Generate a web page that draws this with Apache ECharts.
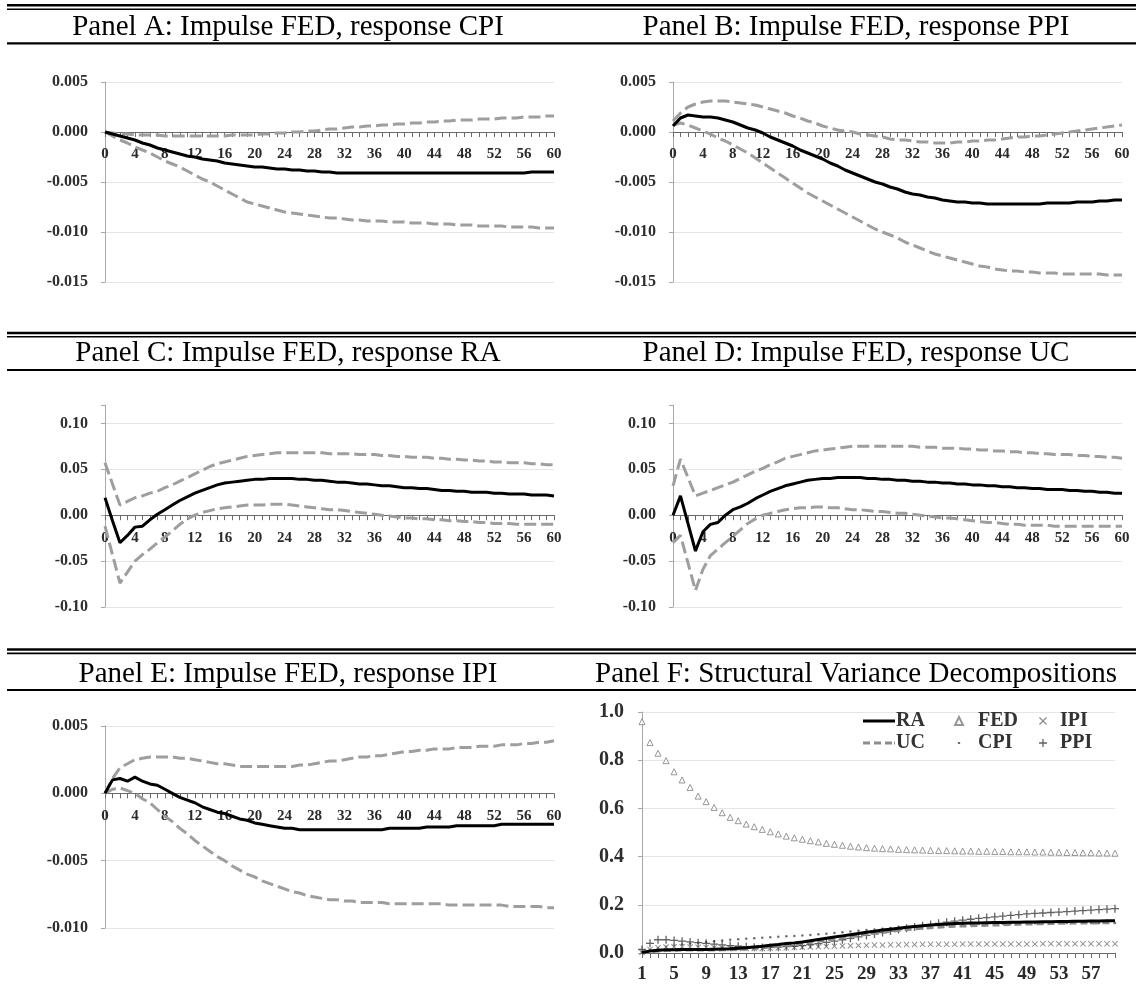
<!DOCTYPE html>
<html><head><meta charset="utf-8">
<script src="https://cdn.jsdelivr.net/npm/echarts@6.0.0/dist/echarts.min.js"></script>
<style>html,body{margin:0;padding:0;background:#fff}#c{width:1136px;height:996px}</style>
</head><body><div id="c"></div>
<script>
// ---------- categories ----------
const irfPeriods = ['0','1','2','3','4','5','6','7','8','9','10','11','12','13','14','15','16','17','18','19','20','21','22','23','24','25','26','27','28','29','30','31','32','33','34','35','36','37','38','39','40','41','42','43','44','45','46','47','48','49','50','51','52','53','54','55','56','57','58','59','60'];
const vdPeriods = ['1','2','3','4','5','6','7','8','9','10','11','12','13','14','15','16','17','18','19','20','21','22','23','24','25','26','27','28','29','30','31','32','33','34','35','36','37','38','39','40','41','42','43','44','45','46','47','48','49','50','51','52','53','54','55','56','57','58','59','60'];

const panelTitles = ['Panel A: Impulse FED, response CPI','Panel B: Impulse FED, response PPI','Panel C: Impulse FED, response RA','Panel D: Impulse FED, response UC','Panel E: Impulse FED, response IPI','Panel F: Structural Variance Decompositions'];

// ---------- Panel A: CPI ----------
const cpiResp = [0,-0.0002,-0.0004,-0.0006,-0.0008,-0.0011,-0.0013,-0.0016,-0.0018,-0.0020,
 -0.0022,-0.0024,-0.0025,-0.0027,-0.0028,-0.0029,-0.0031,-0.0032,-0.0033,-0.0034,
 -0.0035,-0.0035,-0.0036,-0.0037,-0.0037,-0.0038,-0.0038,-0.0039,-0.0039,-0.0040,
 -0.0040,-0.0041,-0.0041,-0.0041,-0.0041,-0.0041,-0.0041,-0.0041,-0.0041,-0.0041,
 -0.0041,-0.0041,-0.0041,-0.0041,-0.0041,-0.0041,-0.0041,-0.0041,-0.0041,-0.0041,
 -0.0041,-0.0041,-0.0041,-0.0041,-0.0041,-0.0041,-0.0041,-0.0040,-0.0040,-0.0040,
 -0.0040];
const cpiUpper = [0,-0.0001,-0.0002,-0.0002,-0.0003,-0.0003,-0.0003,-0.0003,-0.0004,-0.0004,
 -0.0004,-0.0004,-0.0004,-0.0004,-0.0004,-0.0004,-0.0004,-0.0003,-0.0003,-0.0003,
 -0.0003,-0.0002,-0.0002,-0.0001,-0.0001,0.0000,0.0000,0.0001,0.0001,0.0002,
 0.0003,0.0003,0.0004,0.0005,0.0005,0.0006,0.0006,0.0007,0.0007,0.0008,
 0.0008,0.0009,0.0009,0.0010,0.0010,0.0011,0.0011,0.0012,0.0012,0.0012,
 0.0013,0.0013,0.0013,0.0014,0.0014,0.0014,0.0015,0.0015,0.0015,0.0016,
 0.0016];
const cpiLower = [0,-0.0004,-0.0008,-0.0011,-0.0015,-0.0018,-0.0021,-0.0025,-0.0029,-0.0032,
 -0.0035,-0.0039,-0.0043,-0.0047,-0.0050,-0.0054,-0.0058,-0.0062,-0.0066,-0.0070,
 -0.0072,-0.0074,-0.0076,-0.0078,-0.0080,-0.0081,-0.0082,-0.0083,-0.0084,-0.0085,
 -0.0086,-0.0086,-0.0087,-0.0088,-0.0088,-0.0089,-0.0089,-0.0089,-0.0090,-0.0090,
 -0.0090,-0.0091,-0.0091,-0.0091,-0.0092,-0.0092,-0.0092,-0.0093,-0.0093,-0.0093,
 -0.0094,-0.0094,-0.0094,-0.0094,-0.0095,-0.0095,-0.0095,-0.0095,-0.0096,-0.0096,
 -0.0096];

// ---------- Panel B: PPI ----------
const ppiResp = [0.0006,0.0014,0.0017,0.0016,0.0015,0.0015,0.0014,0.0012,0.0010,0.0007,
 0.0004,0.0002,-0.0001,-0.0005,-0.0008,-0.0011,-0.0014,-0.0018,-0.0021,-0.0024,
 -0.0027,-0.0031,-0.0034,-0.0038,-0.0041,-0.0044,-0.0047,-0.0050,-0.0052,-0.0055,
 -0.0057,-0.0060,-0.0062,-0.0063,-0.0065,-0.0066,-0.0068,-0.0069,-0.0070,-0.0070,
 -0.0071,-0.0071,-0.0072,-0.0072,-0.0072,-0.0072,-0.0072,-0.0072,-0.0072,-0.0072,
 -0.0071,-0.0071,-0.0071,-0.0071,-0.0070,-0.0070,-0.0070,-0.0069,-0.0069,-0.0068,
 -0.0068];
const ppiUpper = [0.0011,0.0019,0.0025,0.0028,0.0030,0.0031,0.0031,0.0031,0.0030,0.0029,
 0.0028,0.0027,0.0025,0.0023,0.0021,0.0019,0.0016,0.0014,0.0011,0.0009,
 0.0006,0.0004,0.0002,0.0001,0.0000,-0.0002,-0.0003,-0.0004,-0.0005,-0.0007,
 -0.0008,-0.0008,-0.0009,-0.0010,-0.0010,-0.0011,-0.0011,-0.0011,-0.0010,-0.0010,
 -0.0009,-0.0009,-0.0008,-0.0008,-0.0007,-0.0006,-0.0005,-0.0005,-0.0004,-0.0004,
 -0.0003,-0.0002,-0.0001,0.0000,0.0001,0.0002,0.0003,0.0004,0.0005,0.0006,
 0.0007];
const ppiLower = [0.0007,0.0009,0.0007,0.0004,0.0001,-0.0002,-0.0006,-0.0009,-0.0013,-0.0017,
 -0.0021,-0.0026,-0.0031,-0.0036,-0.0041,-0.0046,-0.0051,-0.0056,-0.0061,-0.0065,
 -0.0069,-0.0073,-0.0077,-0.0081,-0.0085,-0.0089,-0.0093,-0.0097,-0.0100,-0.0103,
 -0.0106,-0.0110,-0.0113,-0.0116,-0.0119,-0.0122,-0.0124,-0.0126,-0.0128,-0.0130,
 -0.0132,-0.0134,-0.0135,-0.0137,-0.0138,-0.0139,-0.0139,-0.0140,-0.0140,-0.0141,
 -0.0141,-0.0141,-0.0142,-0.0142,-0.0142,-0.0142,-0.0142,-0.0142,-0.0143,-0.0143,
 -0.0143];

// ---------- Panel C: RA ----------
const raResp = [0.019,-0.006,-0.030,-0.022,-0.013,-0.012,-0.005,0.001,0.006,0.011,
 0.016,0.020,0.024,0.027,0.030,0.033,0.035,0.036,0.037,0.038,
 0.039,0.039,0.040,0.040,0.040,0.040,0.039,0.039,0.038,0.038,
 0.037,0.036,0.036,0.035,0.034,0.034,0.033,0.032,0.032,0.031,
 0.030,0.030,0.029,0.029,0.028,0.027,0.027,0.026,0.026,0.025,
 0.025,0.025,0.024,0.024,0.023,0.023,0.023,0.022,0.022,0.022,
 0.021];
const raUpper = [0.057,0.034,0.011,0.015,0.019,0.021,0.024,0.026,0.030,0.033,
 0.037,0.041,0.045,0.049,0.053,0.056,0.058,0.060,0.062,0.064,
 0.065,0.066,0.067,0.068,0.068,0.068,0.068,0.068,0.068,0.068,
 0.067,0.067,0.067,0.067,0.066,0.066,0.066,0.065,0.065,0.064,
 0.064,0.063,0.063,0.063,0.062,0.062,0.061,0.061,0.060,0.060,
 0.059,0.059,0.058,0.058,0.057,0.057,0.057,0.056,0.056,0.055,
 0.055];
const raLower = [-0.012,-0.043,-0.074,-0.062,-0.050,-0.043,-0.037,-0.030,-0.024,-0.017,
 -0.010,-0.004,0.000,0.003,0.005,0.007,0.008,0.009,0.010,0.011,
 0.011,0.011,0.012,0.012,0.012,0.011,0.010,0.009,0.008,0.007,
 0.006,0.006,0.005,0.004,0.003,0.002,0.001,0.000,-0.001,-0.002,
 -0.003,-0.003,-0.004,-0.004,-0.005,-0.005,-0.006,-0.006,-0.007,-0.007,
 -0.008,-0.008,-0.009,-0.009,-0.009,-0.010,-0.010,-0.010,-0.010,-0.010,
 -0.010];

// ---------- Panel D: UC ----------
const ucResp = [0.000,0.021,-0.009,-0.039,-0.018,-0.010,-0.008,0.000,0.006,0.009,
 0.013,0.018,0.022,0.026,0.029,0.032,0.034,0.036,0.038,0.039,
 0.040,0.040,0.041,0.041,0.041,0.041,0.040,0.040,0.039,0.039,
 0.038,0.038,0.037,0.037,0.036,0.036,0.035,0.035,0.034,0.034,
 0.033,0.033,0.032,0.032,0.031,0.031,0.030,0.030,0.029,0.029,
 0.028,0.028,0.028,0.027,0.027,0.026,0.026,0.025,0.025,0.024,
 0.024];
const ucUpper = [0.032,0.061,0.041,0.021,0.024,0.027,0.030,0.033,0.036,0.040,
 0.044,0.048,0.051,0.055,0.058,0.062,0.064,0.066,0.068,0.070,
 0.071,0.072,0.073,0.074,0.075,0.075,0.075,0.075,0.075,0.075,
 0.075,0.075,0.075,0.074,0.074,0.074,0.073,0.073,0.073,0.072,
 0.072,0.071,0.071,0.070,0.070,0.069,0.069,0.068,0.068,0.067,
 0.067,0.066,0.066,0.066,0.065,0.065,0.064,0.064,0.063,0.063,
 0.062];
const ucLower = [-0.030,-0.022,-0.052,-0.082,-0.059,-0.044,-0.037,-0.030,-0.023,-0.016,
 -0.009,-0.004,0.000,0.002,0.004,0.006,0.007,0.008,0.008,0.009,
 0.009,0.008,0.008,0.007,0.006,0.006,0.005,0.004,0.004,0.003,
 0.002,0.002,0.001,0.000,-0.001,-0.002,-0.003,-0.003,-0.004,-0.005,
 -0.006,-0.007,-0.008,-0.008,-0.009,-0.010,-0.010,-0.011,-0.011,-0.011,
 -0.011,-0.012,-0.012,-0.012,-0.012,-0.012,-0.012,-0.012,-0.012,-0.012,
 -0.012];

// ---------- Panel E: IPI ----------
const ipiResp = [0,0.0010,0.0011,0.0009,0.0012,0.0009,0.0007,0.0006,0.0003,0.0000,
 -0.0003,-0.0005,-0.0007,-0.0010,-0.0012,-0.0014,-0.0015,-0.0017,-0.0019,-0.0020,
 -0.0022,-0.0023,-0.0024,-0.0025,-0.0026,-0.0026,-0.0027,-0.0027,-0.0027,-0.0027,
 -0.0027,-0.0027,-0.0027,-0.0027,-0.0027,-0.0027,-0.0027,-0.0027,-0.0026,-0.0026,
 -0.0026,-0.0026,-0.0026,-0.0025,-0.0025,-0.0025,-0.0025,-0.0024,-0.0024,-0.0024,
 -0.0024,-0.0024,-0.0024,-0.0023,-0.0023,-0.0023,-0.0023,-0.0023,-0.0023,-0.0023,
 -0.0023];
const ipiUpper = [0,0.0011,0.0019,0.0022,0.0025,0.0026,0.0027,0.0027,0.0027,0.0027,
 0.0026,0.0026,0.0025,0.0024,0.0023,0.0022,0.0022,0.0021,0.0020,0.0020,
 0.0020,0.0020,0.0020,0.0020,0.0020,0.0020,0.0021,0.0021,0.0022,0.0023,
 0.0024,0.0024,0.0025,0.0026,0.0027,0.0027,0.0028,0.0028,0.0029,0.0030,
 0.0031,0.0031,0.0032,0.0032,0.0033,0.0033,0.0033,0.0034,0.0034,0.0034,
 0.0035,0.0035,0.0035,0.0036,0.0036,0.0036,0.0037,0.0037,0.0038,0.0038,
 0.0039];
const ipiLower = [0,0.0003,0.0004,0.0002,0.0000,-0.0004,-0.0007,-0.0012,-0.0017,-0.0021,
 -0.0026,-0.0030,-0.0035,-0.0039,-0.0043,-0.0047,-0.0050,-0.0054,-0.0057,-0.0060,
 -0.0062,-0.0065,-0.0067,-0.0069,-0.0071,-0.0073,-0.0074,-0.0076,-0.0077,-0.0078,
 -0.0079,-0.0079,-0.0080,-0.0080,-0.0081,-0.0081,-0.0081,-0.0081,-0.0082,-0.0082,
 -0.0082,-0.0082,-0.0082,-0.0082,-0.0082,-0.0082,-0.0083,-0.0083,-0.0083,-0.0083,
 -0.0083,-0.0083,-0.0083,-0.0083,-0.0084,-0.0084,-0.0084,-0.0084,-0.0084,-0.0085,
 -0.0085];

// ---------- Panel F: variance decompositions ----------
const vdRA = [0.002,0.008,0.011,0.013,0.014,0.015,0.015,0.015,0.015,0.016,
 0.017,0.018,0.020,0.022,0.025,0.028,0.032,0.035,0.039,0.042,
 0.046,0.051,0.056,0.061,0.066,0.071,0.076,0.081,0.086,0.090,
 0.095,0.099,0.103,0.107,0.110,0.113,0.116,0.118,0.120,0.122,
 0.123,0.124,0.125,0.126,0.127,0.127,0.128,0.128,0.129,0.129,
 0.130,0.130,0.131,0.131,0.132,0.132,0.133,0.133,0.134,0.134];
const vdUC = [0.000,0.005,0.008,0.010,0.011,0.012,0.012,0.012,0.012,0.012,
 0.013,0.014,0.015,0.017,0.019,0.022,0.025,0.028,0.032,0.036,
 0.040,0.044,0.049,0.053,0.058,0.063,0.068,0.073,0.078,0.082,
 0.086,0.090,0.094,0.097,0.100,0.103,0.105,0.107,0.109,0.111,
 0.112,0.113,0.114,0.115,0.116,0.117,0.118,0.119,0.120,0.121,
 0.121,0.122,0.123,0.123,0.124,0.124,0.125,0.125,0.126,0.126];
const vdFED = [0.960,0.873,0.829,0.798,0.752,0.718,0.687,0.651,0.628,0.604,
 0.582,0.563,0.549,0.535,0.524,0.513,0.503,0.494,0.485,0.478,
 0.472,0.466,0.461,0.455,0.451,0.447,0.443,0.440,0.437,0.435,
 0.433,0.432,0.430,0.429,0.428,0.427,0.426,0.425,0.425,0.424,
 0.423,0.423,0.422,0.422,0.421,0.421,0.420,0.420,0.420,0.419,
 0.419,0.418,0.418,0.417,0.417,0.416,0.416,0.415,0.415,0.414];
const vdCPI = [0.003,0.012,0.020,0.026,0.031,0.035,0.039,0.043,0.046,0.049,
 0.052,0.055,0.057,0.059,0.061,0.063,0.065,0.067,0.069,0.071,
 0.073,0.075,0.078,0.080,0.083,0.086,0.089,0.092,0.095,0.098,
 0.101,0.104,0.106,0.108,0.110,0.112,0.114,0.115,0.116,0.117,
 0.118,0.119,0.120,0.120,0.121,0.121,0.122,0.122,0.122,0.123,
 0.123,0.123,0.124,0.124,0.124,0.124,0.125,0.125,0.125,0.125];
const vdIPI = [0.002,0.015,0.022,0.025,0.026,0.026,0.025,0.024,0.023,0.022,
 0.021,0.020,0.019,0.019,0.019,0.019,0.020,0.021,0.022,0.023,
 0.024,0.025,0.026,0.027,0.028,0.029,0.030,0.031,0.032,0.033,
 0.033,0.034,0.034,0.035,0.035,0.036,0.036,0.036,0.036,0.036,
 0.037,0.037,0.037,0.037,0.037,0.037,0.037,0.037,0.037,0.037,
 0.038,0.038,0.038,0.038,0.038,0.038,0.038,0.038,0.038,0.038];
const vdPPI = [0.015,0.040,0.055,0.055,0.052,0.049,0.046,0.043,0.040,0.037,
 0.034,0.031,0.028,0.026,0.024,0.023,0.023,0.024,0.026,0.028,
 0.031,0.035,0.039,0.044,0.049,0.055,0.061,0.067,0.073,0.079,
 0.085,0.091,0.097,0.103,0.108,0.113,0.118,0.123,0.128,0.132,
 0.136,0.140,0.144,0.147,0.150,0.153,0.156,0.159,0.162,0.164,
 0.166,0.168,0.170,0.172,0.174,0.176,0.178,0.180,0.182,0.184];

// ---------- drawing ----------
const chart = echarts.init(document.getElementById('c'), null, {renderer: 'canvas'});
const SERIF = '"Liberation Serif","Times New Roman",serif';
const GRAY = '#9e9e9e';

const gridBoxes = [
  {left: 105, top: 82,  width: 449, height: 200},
  {left: 673, top: 82,  width: 449, height: 200},
  {left: 105, top: 405, width: 449, height: 202},
  {left: 673, top: 405, width: 449, height: 202},
  {left: 105, top: 726, width: 449, height: 202},
  {left: 642, top: 712, width: 473, height: 241}
];
const yRanges = [
  {min: -0.015, max: 0.005, interval: 0.005, dec: 3},
  {min: -0.015, max: 0.005, interval: 0.005, dec: 3},
  {min: -0.10, max: 0.12, interval: 0.05, dec: 2},
  {min: -0.10, max: 0.12, interval: 0.05, dec: 2},
  {min: -0.010, max: 0.005, interval: 0.005, dec: 3},
  {min: 0, max: 1.0, interval: 0.2, dec: 1}
];

const grids = gridBoxes.map(g => Object.assign({containLabel: false, outerBoundsMode: 'none'}, g));

// x axis sits on the zero line: shift it up by the zero's distance from the bottom
const xAxes = gridBoxes.map((g, i) => {
  const r = yRanges[i];
  const zeroShift = (0 - r.min) / (r.max - r.min) * g.height;
  return {
    type: 'category', gridIndex: i, boundaryGap: false, position: 'bottom',
    offset: -zeroShift,
    data: i === 5 ? vdPeriods : irfPeriods,
    axisLine: {onZero: false, lineStyle: {color: '#6a6a6a', width: 1}},
    axisTick: {show: true, interval: 0, length: 5, lineStyle: {color: '#6a6a6a'}},
    axisLabel: {interval: 3, margin: i === 5 ? 12 : 15, fontFamily: SERIF, fontWeight: 'bold',
      fontSize: i === 5 ? 19 : 15, color: '#2a2a2a'},
    splitLine: {show: false}
  };
});

const yAxes = yRanges.map((r, i) => ({
  type: 'value', gridIndex: i, min: r.min, max: r.max, interval: r.interval,
  axisLine: {show: true, lineStyle: {color: '#a8a8a8'}},
  axisTick: {show: true, length: 4, lineStyle: {color: '#a8a8a8'}},
  splitLine: {show: true, showMaxLine: r.max === 0.12 ? false : true, lineStyle: {color: '#e6e6e6'}},
  axisLabel: {margin: i === 5 ? 18 : 17, fontFamily: SERIF, fontWeight: 'bold',
    fontSize: i === 5 ? 20 : 16, color: '#2e2e2e',
    formatter: v => {
      const k = Math.round(v / r.interval);
      if (Math.abs(v - k * r.interval) > 1e-9) return '';
      return (k * r.interval).toFixed(r.dec);
    }}
}));

function irfSeries(idx, resp, up, lo) {
  const base = {type: 'line', xAxisIndex: idx, yAxisIndex: idx, showSymbol: false, symbol: 'none', silent: true, animation: false};
  return [
    Object.assign({}, base, {data: up, lineStyle: {color: GRAY, width: 3, type: [12, 5]}}),
    Object.assign({}, base, {data: lo, lineStyle: {color: GRAY, width: 3, type: [12, 5]}}),
    Object.assign({}, base, {data: resp, lineStyle: {color: '#000', width: 3}, z: 3})
  ];
}

const plusPath = 'path://M4.2,0H5.8V4.2H10V5.8H5.8V10H4.2V5.8H0V4.2H4.2Z';
const crossPath = 'path://M1.1,0L5,3.9L8.9,0L10,1.1L6.1,5L10,8.9L8.9,10L5,6.1L1.1,10L0,8.9L3.9,5L0,1.1Z';
const dotIcon = 'path://M0,0H0.01V0.01H0Z M9.99,9.99H10V10H9.99Z M3.6,3.6H6.4V6.4H3.6Z';
const solidIcon = 'path://M0,0H32V3H0Z';
const dashIcon = 'path://M0,0H7V3H0Z M11,0H18V3H11Z M22,0H29V3H22Z M31,0H32V3H31Z';

const series = [].concat(
  irfSeries(0, cpiResp, cpiUpper, cpiLower),
  irfSeries(1, ppiResp, ppiUpper, ppiLower),
  irfSeries(2, raResp, raUpper, raLower),
  irfSeries(3, ucResp, ucUpper, ucLower),
  irfSeries(4, ipiResp, ipiUpper, ipiLower),
  [
    {name: 'RA', type: 'line', xAxisIndex: 5, yAxisIndex: 5, data: vdRA, showSymbol: false, symbol: 'none', animation: false,
      lineStyle: {color: '#000', width: 3}, itemStyle: {color: '#000'}, z: 4},
    {name: 'UC', type: 'line', xAxisIndex: 5, yAxisIndex: 5, data: vdUC, showSymbol: false, symbol: 'none', animation: false,
      lineStyle: {color: '#8c8c8c', width: 3, type: [7, 4]}, itemStyle: {color: '#8c8c8c'}, z: 3},
    {name: 'FED', type: 'scatter', xAxisIndex: 5, yAxisIndex: 5, data: vdFED, symbol: 'triangle', symbolSize: 6, animation: false,
      itemStyle: {color: '#fff', borderColor: '#7d7d7d', borderWidth: 1}},
    {name: 'CPI', type: 'scatter', xAxisIndex: 5, yAxisIndex: 5, data: vdCPI, symbol: 'circle', symbolSize: 2.5, animation: false,
      itemStyle: {color: '#4a4a4a'}},
    {name: 'IPI', type: 'scatter', xAxisIndex: 5, yAxisIndex: 5, data: vdIPI, symbol: crossPath, symbolSize: 6, animation: false,
      itemStyle: {color: '#6e6e6e'}},
    {name: 'PPI', type: 'scatter', xAxisIndex: 5, yAxisIndex: 5, data: vdPPI, symbol: plusPath, symbolSize: 8, animation: false,
      itemStyle: {color: '#3a3a3a'}}
  ]
);

const legendText = {fontFamily: SERIF, fontWeight: 'bold', fontSize: 20, color: '#333'};
const legends = [
  {data: [{name: 'RA', icon: solidIcon}, {name: 'UC', icon: dashIcon}], left: 858, top: 706, orient: 'vertical',
   itemGap: 2, itemWidth: 32, itemHeight: 12, textStyle: Object.assign({padding: [0, 0, 0, -4]}, legendText), selectedMode: false},
  {data: [{name: 'FED', icon: 'triangle'}, {name: 'CPI', icon: dotIcon}], left: 949, top: 706, orient: 'vertical',
   itemGap: 2, itemWidth: 8, itemHeight: 8, textStyle: Object.assign({padding: [0, 0, 0, 10]}, legendText), selectedMode: false},
  {data: [{name: 'IPI', icon: crossPath}, {name: 'PPI', icon: plusPath}], left: 1034, top: 706, orient: 'vertical',
   itemGap: 2, itemWidth: 8, itemHeight: 8, textStyle: Object.assign({padding: [0, 0, 0, 8]}, legendText), selectedMode: false}
];

// titles and rules
const colCenters = [288, 856];
const titleY = [27, 353, 674];
const graphics = [];
panelTitles.forEach((t, i) => {
  graphics.push({type: 'text', x: colCenters[i % 2], y: titleY[Math.floor(i / 2)], silent: true,
    style: {text: t, font: '29px "Liberation Serif", "Times New Roman", serif', fill: '#000',
      align: 'center', verticalAlign: 'middle', textAlign: 'center', textVerticalAlign: 'middle'}});
});
const rules = [
  [5.3, 2.5], [9.3, 1.6], [43.3, 2.2],
  [333, 2.5], [336.8, 1.6], [370, 2.2],
  [649.6, 2.5], [653.3, 1.8], [690, 2.2]
];
rules.forEach(r => graphics.push({type: 'line', silent: true,
  shape: {x1: 7, y1: r[0], x2: 1136, y2: r[0]}, style: {stroke: '#000', lineWidth: r[1]}}));

chart.setOption({
  animation: false,
  backgroundColor: '#fff',
  grid: grids,
  xAxis: xAxes,
  yAxis: yAxes,
  legend: legends,
  series: series,
  graphic: graphics
});
</script></body></html>
